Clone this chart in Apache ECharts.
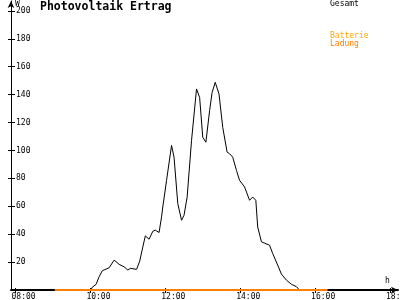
<!DOCTYPE html>
<html><head><meta charset="utf-8">
<script src="https://cdn.jsdelivr.net/npm/echarts@6/dist/echarts.min.js"></script>
<style>html,body{margin:0;padding:0;background:#fff}#c{width:400px;height:300px}</style>
</head><body><div id="c"></div>
<script>
var times = ["10:01","10:03","10:09","10:14","10:19","10:30","10:38","10:46","10:54","11:00","11:04","11:14","11:19","11:24","11:28","11:34","11:40","11:44","11:50","11:54","11:56","12:02","12:10","12:14","12:20","12:26","12:30","12:35","12:42","12:50","12:55","13:00","13:05","13:11","13:15","13:20","13:26","13:32","13:39","13:43","13:48","13:54","13:59","14:07","14:15","14:20","14:25","14:28","14:34","14:36","14:47","14:52","15:00","15:06","15:14","15:22","15:30","15:34"];
var gesamt = [0,2,4,9.5,13.8,15.9,21.4,18.4,16.6,14.3,15.5,14.8,20.7,30.9,38.8,36.4,42.1,42.9,41.2,52.4,59.5,78.6,103.6,95.2,61.9,50,53.6,66.6,107.1,144.1,138,109.5,105.9,128.6,141.6,148.8,140.5,116.6,98.8,97.6,95.2,85.7,78.6,73.8,64.3,66.6,64.3,45.2,34.5,33.4,32.1,26.2,17.9,11.4,7.1,4.1,2.4,0.5];
var ladungTimes = ["09:03","16:20"];
var ladung = [0,0];
var xTicks = [8,10,12,14,16,18];
var yTicks = [20,40,60,80,100,120,140,160,180,200];

function toH(t){var p=t.split(":");return +p[0]+(+p[1])/60;}
function pad(n){return (n<10?"0":"")+n;}
var gData = times.map(function(t,i){return [toH(t),gesamt[i]];});
var lData = ladungTimes.map(function(t,i){return [toH(t),ladung[i]];});

var mono = "DejaVu Sans Mono";
var chart = echarts.init(document.getElementById('c'));
chart.setOption({
  animation:false,
  backgroundColor:'#fff',
  grid:{left:11,right:2,top:1,bottom:10,containLabel:false,outerBoundsMode:'none'},
  xAxis:[{
    type:'value',min:7.88,max:18.213,
    axisLine:{show:true,onZero:false,lineStyle:{color:'#000',width:2},symbol:['none','arrow'],symbolSize:[5,7],symbolOffset:[0,0]},
    axisTick:{show:true,customValues:xTicks,length:3,lineStyle:{color:'#000'}},
    axisLabel:{customValues:xTicks,color:'#000',fontFamily:mono,fontSize:8,margin:3,align:'left',padding:[0,0,0,-4],hideOverlap:false,
      formatter:function(v){return pad(Math.round(v))+":00";}},
    splitLine:{show:false}
  },{
    type:'value',min:7.88,max:18.213,position:'bottom',
    axisLine:{show:false},
    axisTick:{show:true,inside:true,customValues:xTicks,length:2,lineStyle:{color:'#000'}},
    axisLabel:{show:false},splitLine:{show:false}
  }],
  yAxis:[{
    type:'value',min:0,max:207.1,
    axisLine:{show:true,onZero:false,lineStyle:{color:'#000',width:1},symbol:['none','arrow'],symbolSize:[5,7]},
    axisTick:{show:true,customValues:yTicks,length:3,lineStyle:{color:'#000'}},
    axisLabel:{customValues:yTicks,inside:true,color:'#000',fontFamily:mono,fontSize:8,margin:5},
    splitLine:{show:false}
  },{
    type:'value',min:0,max:207.1,position:'left',offset:0,
    axisLine:{show:false},
    axisTick:{show:true,inside:true,customValues:yTicks,length:4,lineStyle:{color:'#000'}},
    axisLabel:{show:false},splitLine:{show:false}
  }],
  series:[{
    name:'Gesamt',type:'line',data:gData,showSymbol:false,symbol:'none',
    lineStyle:{color:'#000',width:1},z:2
  },{
    name:'Ladung',type:'line',data:lData,showSymbol:false,symbol:'none',
    lineStyle:{color:'#ff8000',width:2},z:3
  }],
  graphic:[
    {type:'text',left:40,top:1,style:{text:'Photovoltaik Ertrag',font:'bold 11.5px "DejaVu Sans Mono"',fill:'#000'}},
    {type:'text',left:15,top:0,style:{text:'W',font:'8px "DejaVu Sans Mono"',fill:'#000'}},
    {type:'text',left:385,top:277,style:{text:'h',font:'8px "DejaVu Sans Mono"',fill:'#000'}},
    {type:'text',left:330,top:0,style:{text:'Gesamt',font:'8px "DejaVu Sans Mono"',fill:'#000'}},
    {type:'text',left:330,top:32,style:{text:'Batterie',font:'8px "DejaVu Sans Mono"',fill:'#ffaa00'}},
    {type:'text',left:330,top:40,style:{text:'Ladung',font:'8px "DejaVu Sans Mono"',fill:'#ff8000'}}
  ]
});
</script></body></html>
